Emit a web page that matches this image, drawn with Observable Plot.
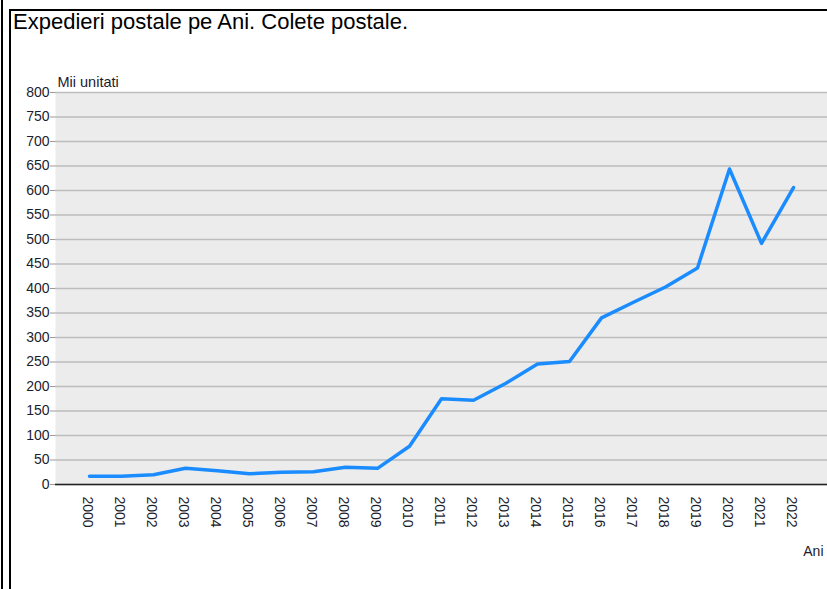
<!DOCTYPE html>
<html>
<head>
<meta charset="utf-8">
<script src="https://cdn.jsdelivr.net/npm/d3@7"></script>
<script src="https://cdn.jsdelivr.net/npm/@observablehq/plot@0.6"></script>
<style>
  html, body { margin: 0; padding: 0; background: #fff; overflow: hidden; }
  #wrap { position: relative; width: 827px; height: 589px; font-family: "Liberation Sans", Arial, sans-serif; }
  #outer { position: absolute; left: 1px; top: 0; width: 2px; height: 589px; background: #000; }
  #inner { position: absolute; left: 9px; top: 9px; width: 830px; height: 600px; border-left: 2px solid #000; border-top: 2px solid #000; }
  #title { position: absolute; left: 13px; top: 9px; font-size: 22px; color: #000; white-space: nowrap; }
  #chart { position: absolute; left: 0; top: 0; }
</style>
</head>
<body>
<div id="wrap">
  <div id="chart"></div>
  <div id="outer"></div>
  <div id="inner"></div>
  <div id="title">Expedieri postale pe Ani. Colete postale.</div>
</div>
<script>
const years = ["2000","2001","2002","2003","2004","2005","2006","2007","2008","2009","2010","2011","2012","2013","2014","2015","2016","2017","2018","2019","2020","2021","2022"];
const values = [17,17,20,33,28,22,25,26,35,33,78,175,172,206,246,251,340,372,403,442,644,492,606];
const yTicks = [0,50,100,150,200,250,300,350,400,450,500,550,600,650,700,750,800];
const yLabel = "Mii unitati";
const xLabel = "Ani";

const data = years.map((y, i) => ({year: y, value: values[i]}));

const chart = Plot.plot({
  width: 827,
  height: 589,
  marginLeft: 55,
  marginRight: 0,
  marginTop: 92,
  marginBottom: 105,
  style: {fontFamily: "'Liberation Sans', Arial, sans-serif", fontSize: "14px", color: "#1c1c2c", background: "transparent", overflow: "visible"},
  x: {type: "point", domain: years, padding: 1, label: null},
  y: {domain: [0, 800], label: null},
  marks: [
    Plot.frame({fill: "#ececec", stroke: null}),
    Plot.gridY(yTicks, {stroke: "#bdbdbd", strokeOpacity: 1, strokeWidth: 1.5}),
    Plot.axisY(yTicks, {tickSize: 5, tickPadding: 1, stroke: "#9a9a9a", fontSize: 14, fill: "#1c1c2c"}),
    Plot.ruleY([0], {stroke: "#222", strokeWidth: 1.5}),
    Plot.axisX({tickRotate: 90, tickSize: 0, tickPadding: 12, fontSize: 14, fill: "#1c1c2c", dx: -2}),
    Plot.line(data, {x: "year", y: "value", stroke: "#1a8cff", strokeWidth: 3.5, strokeLinejoin: "round", strokeLinecap: "round"}),
    Plot.text([yLabel], {frameAnchor: "top-left", dx: 2, dy: -6, textAnchor: "start", lineAnchor: "bottom", fontSize: 14.5, fill: "#1c1c2c"}),
    Plot.text([xLabel], {frameAnchor: "bottom-right", dx: -4, dy: 71, textAnchor: "end", lineAnchor: "bottom", fontSize: 14, fill: "#1c1c2c"})
  ]
});
document.getElementById("chart").appendChild(chart);
</script>
</body>
</html>
